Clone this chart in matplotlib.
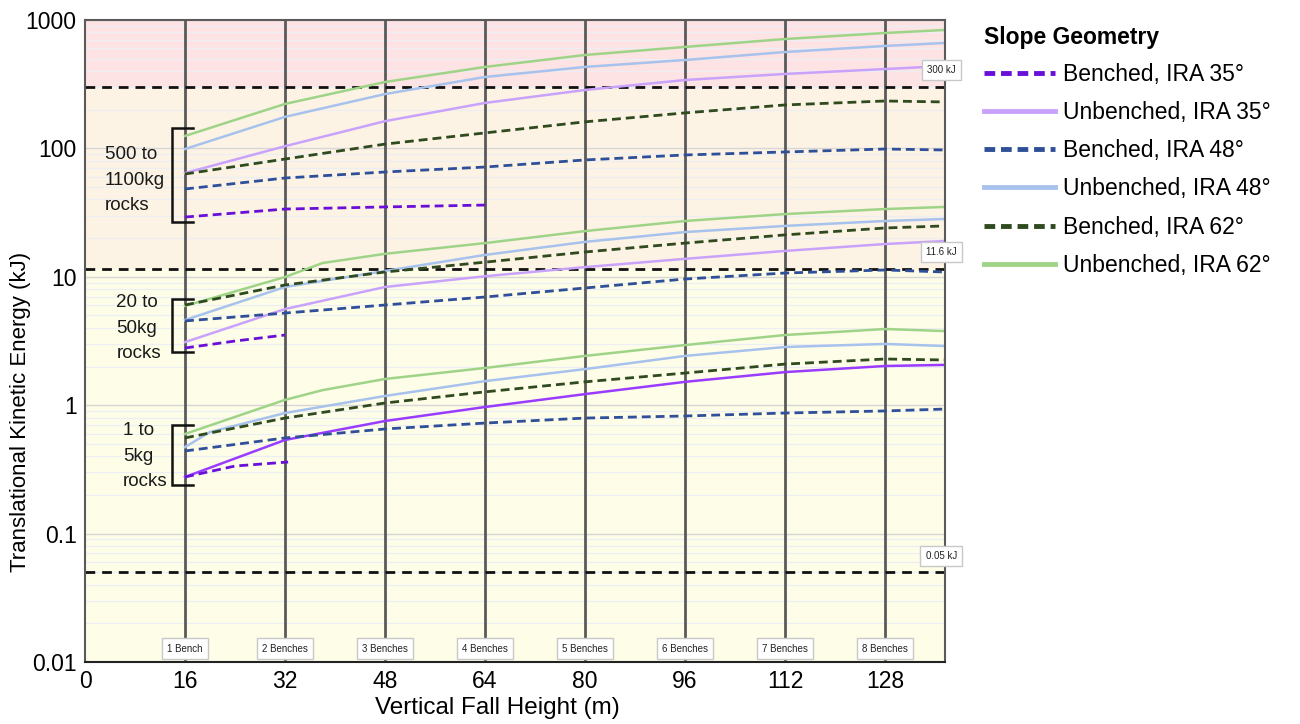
import matplotlib
matplotlib.use("Agg")
import matplotlib.pyplot as plt
from matplotlib.lines import Line2D

plt.rcParams['font.family'] = ['Liberation Sans', 'DejaVu Sans']

# ---------------- data ----------------
x_std = [16, 32, 48, 64, 80, 96, 112, 128, 137.5]
x_kink = [16, 32, 38, 48, 64, 80, 96, 112, 128, 137.5]
x_small_blue = [16, 20, 32, 48, 64, 80, 96, 112, 128, 137.5]

# 500 to 1100 kg rocks
L_unb62 = [125, 222, 329, 431, 534, 617, 711, 792, 836]
L_unb48 = [98.9, 176, 265, 360, 431, 488, 563, 628, 662]
L_unb35 = [64.3, 104, 163, 226, 285, 341, 380, 415, 438]
L_ben62 = [63.2, 82.6, 108, 132, 161, 189, 218, 234, 230]
L_ben48 = [48.3, 58.8, 65.5, 71.6, 81.3, 88.9, 93.8, 98.9, 97.2]
L_ben35_x = [16, 32, 48, 64]
L_ben35 = [29.2, 33.7, 35.0, 36.2]

# 20 to 50 kg rocks
M_unb62 = [5.93, 9.96, 12.8, 15.1, 18.3, 22.7, 27.2, 30.8, 33.7, 35.0]
M_unb48 = [4.61, 8.33, 11.1, 14.8, 18.7, 22.3, 24.9, 27.2, 28.2]
M_unb35 = [3.10, 5.61, 8.33, 10.1, 11.9, 13.8, 15.9, 18.0, 19.0]
M_ben62 = [6.03, 8.63, 10.9, 13.0, 15.6, 18.3, 21.2, 24.0, 24.9]
M_ben48 = [4.53, 5.22, 6.03, 6.96, 8.18, 9.61, 10.7, 11.3, 10.9]
M_ben35_x = [16, 24, 32]
M_ben35 = [2.79, 3.16, 3.52]

# 1 to 5 kg rocks
S_unb62 = [0.597, 1.10, 1.31, 1.60, 1.95, 2.42, 2.94, 3.52, 3.92, 3.78]
S_unb48 = [0.472, 0.618, 0.869, 1.18, 1.54, 1.91, 2.42, 2.84, 3.00, 2.89]
S_unb35 = [0.276, 0.536, 0.753, 0.968, 1.22, 1.52, 1.81, 2.02, 2.06]
S_ben62 = [0.556, 0.794, 1.04, 1.27, 1.52, 1.78, 2.09, 2.29, 2.25]
S_ben48 = [0.440, 0.556, 0.653, 0.726, 0.794, 0.824, 0.869, 0.902, 0.933]
S_ben35_x = [16, 24, 32.5]
S_ben35 = [0.276, 0.336, 0.361]

thresholds = [300, 11.6, 0.05]
threshold_labels = ['300 kJ', '11.6 kJ', '0.05 kJ']
bench_x = [16, 32, 48, 64, 80, 96, 112, 128]
bench_labels = ['1 Bench', '2 Benches', '3 Benches', '4 Benches',
                '5 Benches', '6 Benches', '7 Benches', '8 Benches']
x_ticks = [0, 16, 32, 48, 64, 80, 96, 112, 128]
y_ticks = [0.01, 0.1, 1, 10, 100, 1000]
y_ticklabels = ['0.01', '0.1', '1', '10', '100', '1000']

legend_labels = ['Benched, IRA 35°', 'Unbenched, IRA 35°', 'Benched, IRA 48°',
                 'Unbenched, IRA 48°', 'Benched, IRA 62°', 'Unbenched, IRA 62°']

# ---------------- style ----------------
C_B35 = '#6a0fd8'
C_U35 = '#c9a2fb'
C_U35_small = '#9a3cff'
C_B48 = '#2f4f98'
C_U48 = '#a7c2ec'
C_B62 = '#2f4a1e'
C_U62 = '#9fd488'
DASH = (0, (3.2, 1.8))

fig = plt.figure(figsize=(13, 7.24), dpi=100)
ax = fig.add_axes([85/1300, 1-662/724, 860/1300, 642/724])
ax.set_yscale('log')
ax.set_xlim(0, 137.6)
ax.set_ylim(0.01, 1000)
ax.set_axisbelow(True)

# background bands
ax.axhspan(300, 1000, color='#fde3e4', zorder=0, lw=0)
ax.axhspan(11.6, 300, color='#fdf3e4', zorder=0, lw=0)
ax.axhspan(0.01, 11.6, color='#fefde8', zorder=0, lw=0)

# grid
ax.yaxis.grid(True, which='minor', color='#eceef3', lw=0.9)
ax.yaxis.grid(True, which='major', color='#d6d6d6', lw=1.0)
ax.xaxis.grid(False)

for bx in bench_x:
    ax.axvline(bx, color='#5a5a5a', lw=2.0, zorder=1)

for t in thresholds:
    ax.axhline(t, color='#111111', lw=2.0, ls=(0, (3.5, 2.5)), zorder=2)

lw_s = 1.8
lw_d = 2.0
# large
ax.plot(x_std, L_unb62, color=C_U62, lw=lw_s, zorder=3)
ax.plot(x_std, L_unb48, color=C_U48, lw=lw_s, zorder=3)
ax.plot(x_std, L_unb35, color=C_U35, lw=lw_s, zorder=3)
ax.plot(x_std, L_ben62, color=C_B62, lw=lw_d, ls=DASH, zorder=3)
ax.plot(x_std, L_ben48, color=C_B48, lw=lw_d, ls=DASH, zorder=3)
ax.plot(L_ben35_x, L_ben35, color=C_B35, lw=lw_d, ls=DASH, zorder=3)
# medium
ax.plot(x_kink, M_unb62, color=C_U62, lw=lw_s, zorder=3)
ax.plot(x_std, M_unb48, color=C_U48, lw=lw_s, zorder=3)
ax.plot(x_std, M_unb35, color=C_U35, lw=lw_s, zorder=3)
ax.plot(x_std, M_ben62, color=C_B62, lw=lw_d, ls=DASH, zorder=3)
ax.plot(x_std, M_ben48, color=C_B48, lw=lw_d, ls=DASH, zorder=3)
ax.plot(M_ben35_x, M_ben35, color=C_B35, lw=lw_d, ls=DASH, zorder=3)
# small
ax.plot(x_kink, S_unb62, color=C_U62, lw=lw_s, zorder=3)
ax.plot(x_small_blue, S_unb48, color=C_U48, lw=lw_s, zorder=3)
ax.plot(x_std, S_unb35, color=C_U35_small, lw=lw_s, zorder=3)
ax.plot(x_std, S_ben62, color=C_B62, lw=lw_d, ls=DASH, zorder=3)
ax.plot(x_std, S_ben48, color=C_B48, lw=lw_d, ls=DASH, zorder=3)
ax.plot(S_ben35_x, S_ben35, color=C_B35, lw=lw_d, ls=DASH, zorder=3)

# brackets
def bracket(y0, y1):
    ax.plot([17.3, 13.9, 13.9, 17.3], [y1, y1, y0, y0], color='#111111',
            lw=1.8, zorder=4, solid_joinstyle='miter', clip_on=False)

bracket(26.7, 144)
bracket(2.60, 6.71)
bracket(0.239, 0.70)
ax.text(3.2, 56.7, '500 to\n1100kg\nrocks', fontsize=13.5, ha='left',
        va='center', linespacing=1.62, color='#1a1a1a', zorder=5)
ax.text(5.0, 3.99, '20 to\n50kg\nrocks', fontsize=13.5, ha='left',
        va='center', linespacing=1.62, color='#1a1a1a', zorder=5)
ax.text(6.1, 0.402, '1 to\n5kg\nrocks', fontsize=13.5, ha='left',
        va='center', linespacing=1.62, color='#1a1a1a', zorder=5)

# bench labels
box = dict(boxstyle='square,pad=0.55', fc='white', ec='#c8c8c8', lw=1)
for bx, bl in zip(bench_x, bench_labels):
    ax.text(bx, 0.0127, bl, fontsize=7, ha='center', va='center',
            bbox=box, zorder=6, color='#222222')

# threshold labels
thr_pos = [408, 15.6, 0.067]
for t, tl, yp in zip(thresholds, threshold_labels, thr_pos):
    ax.text(137.0, yp, tl, fontsize=7, ha='center', va='center',
            bbox=box, zorder=6, color='#222222', clip_on=False)

# axes styling
for s in ax.spines.values():
    s.set_color('#5a5a5a')
    s.set_linewidth(1.5)
    s.set_zorder(5)
ax.spines['bottom'].set_color('#222222')
ax.set_xticks(x_ticks)
ax.set_yticks(y_ticks)
ax.set_yticklabels(y_ticklabels)
ax.tick_params(axis='both', which='both', length=0, labelsize=16.5, pad=6)
ax.tick_params(axis='y', which='minor', labelleft=False)
ax.set_xlabel('Vertical Fall Height (m)', fontsize=17.5, labelpad=4)
ax.xaxis.set_label_coords(0.48, -0.055)
ax.set_ylabel('Translational Kinetic Energy (kJ)', fontsize=16)
ax.yaxis.set_label_coords(-0.063, 0.39)

# legend
handles = [
    Line2D([], [], color=C_B35, lw=3.5, ls=(0, (2.2, 1.2))),
    Line2D([], [], color=C_U35, lw=3.5),
    Line2D([], [], color=C_B48, lw=3.5, ls=(0, (2.2, 1.2))),
    Line2D([], [], color=C_U48, lw=3.5),
    Line2D([], [], color=C_B62, lw=3.5, ls=(0, (2.2, 1.2))),
    Line2D([], [], color=C_U62, lw=3.5),
]
leg = fig.legend(handles, legend_labels, loc='upper left',
                 bbox_to_anchor=(975/1300, 1-17/724), frameon=False,
                 fontsize=16.5, title='Slope Geometry',
                 title_fontproperties={'weight': 'bold', 'size': 16.5},
                 handlelength=3.1, handletextpad=0.35, labelspacing=0.66,
                 alignment='left', borderaxespad=0)
leg._legend_box.sep = 10

fig.savefig('out.png', dpi=100)
